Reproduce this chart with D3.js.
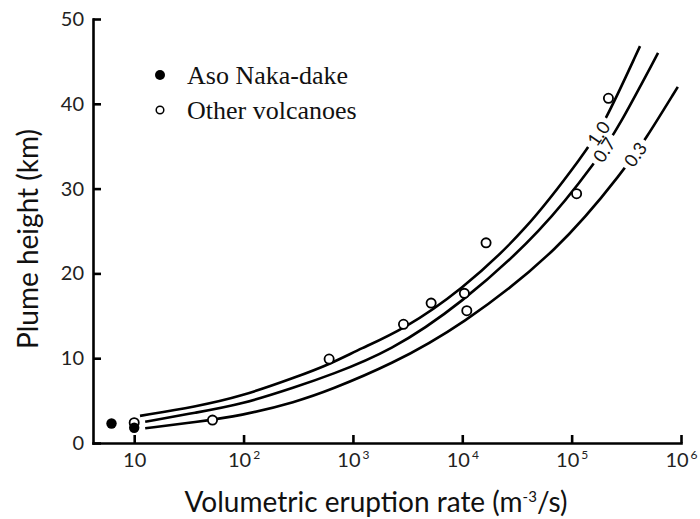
<!DOCTYPE html>
<html>
<head>
<meta charset="utf-8">
<script src="https://cdn.jsdelivr.net/npm/d3@7"></script>
<style>
    body { margin: 0; background: #fff; }
    svg { display: block; background: #fff; }
    .axis path, .axis line { stroke: #000; stroke-width: 2.6; }
    .axis text { font-family: Lato, "Open Sans", sans-serif; font-size: 20px; fill: #222; }
    .title { font-family: Lato, "Open Sans", sans-serif; fill: #111; }
    .legend { font-family: "Liberation Serif", "Times New Roman", serif; font-size: 26px; fill: #111; }
    .curve { fill: none; stroke: #000; stroke-width: 2.6; }
    .curveLabel { font-family: Lato, sans-serif; font-size: 18px; fill: #111; }
</style>
</head>
<body>
<div id="main"></div>
<script>
const W = 700;
const H = 519;

// tick values
const xTicks = [10, 1e2, 1e3, 1e4, 1e5, 1e6];
const yTicks = [0, 10, 20, 30, 40, 50];

// observations: [eruption rate m3/s, plume height km]
const asoPoints = [[6.2, 2.3], [10, 1.8]];
const otherPoints = [
    [10, 2.4], [52, 2.7], [606, 9.9], [2900, 14.0], [5190, 16.5],
    [10450, 17.65], [11000, 15.6], [16500, 23.6], [111000, 29.4], [217000, 40.65]
];

// model curves
const curveNames = ["1.0", "0.7", "0.3"];
const curve10 = [[11.3, 3.2], [37, 4.3], [93, 5.45], [307, 7.8], [617, 9.3], [1164, 11.1],
    [2900, 13.4], [9550, 17.9], [38900, 25.1], [131000, 34.2], [193000, 37.3], [422000, 46.8]];
const curve07 = [[12.6, 2.5], [37, 3.6], [93, 4.5], [307, 6.64], [617, 8.0], [2190, 10.8],
    [9550, 16.3], [55000, 25.1], [175000, 33.6], [260000, 36.9], [617000, 46.0]];
const curve03 = [[12.6, 1.73], [37, 2.5], [93, 3.18], [307, 4.87], [617, 6.25], [2190, 9.2],
    [9550, 13.7], [78300, 22.8], [309000, 32.4], [468000, 35.7], [935000, 42.0]];
const curves = [curve10, curve07, curve03];
const labelSeg = [9, 8, 8];      // label sits in the segment after this point
const labelT = [0.75, 0.3, 0.5]; // how far along that segment

var svg = d3.select("#main").append("svg")
    .attr("width", W)
    .attr("height", H);

var x = d3.scaleLog().domain([4.2, 1e6]).range([93, 681]);
var y = d3.scaleLinear().domain([0, 50]).range([443, 19]);

// axes, ticks point inward
var xAxis = svg.append("g")
    .attr("class", "axis")
    .attr("transform", "translate(0," + y(0) + ")")
    .call(d3.axisBottom(x).tickValues(xTicks).tickSizeInner(-8).tickSizeOuter(0).tickPadding(10));
xAxis.selectAll(".tick text").each(function (d) {
    var t = d3.select(this).text("10");
    var e = Math.round(Math.log10(d));
    if (e > 1) {
        t.append("tspan")
            .attr("dx", 2)
            .attr("dy", -8)
            .attr("font-size", "12px")
            .text(e);
    }
});

svg.append("g")
    .attr("class", "axis")
    .attr("transform", "translate(" + x(4.2) + ",0)")
    .call(d3.axisLeft(y).tickValues(yTicks).tickSizeInner(-8).tickSizeOuter(0).tickPadding(9));

svg.selectAll(".axis .domain").attr("stroke-linecap", "square");

// axis titles
svg.append("text")
    .attr("class", "title")
    .attr("x", 376)
    .attr("y", 512)
    .attr("text-anchor", "middle")
    .style("font-size", "28px")
    .text("Volumetric eruption rate (m")
    .call(t => t.append("tspan").attr("dy", -10).style("font-size", "15px").text("-3"))
    .call(t => t.append("tspan").attr("dy", 10).text("/s)"));

svg.append("text")
    .attr("class", "title")
    .attr("transform", "translate(38,239) rotate(-90)")
    .attr("text-anchor", "middle")
    .style("font-size", "28px")
    .text("Plume height (km)");

// label placement along each curve
var labelPlace = function (d, i) {
    var p0 = d[labelSeg[i]], p1 = d[labelSeg[i] + 1], t = labelT[i];
    var x0 = x(p0[0]), y0 = y(p0[1]), x1 = x(p1[0]), y1 = y(p1[1]);
    var ang = Math.atan2(y1 - y0, x1 - x0) * 180 / Math.PI;
    return "translate(" + (x0 + t * (x1 - x0)) + "," + (y0 + t * (y1 - y0)) + ") rotate(" + ang + ")";
};

// masks cut a gap in each curve where its label sits
var defs = svg.append("defs");
curves.forEach(function (d, i) {
    var m = defs.append("mask")
        .attr("id", "gap" + i)
        .attr("maskUnits", "userSpaceOnUse")
        .attr("x", 0).attr("y", 0).attr("width", W).attr("height", H);
    m.append("rect").attr("width", W).attr("height", H).attr("fill", "#fff");
    m.append("rect")
        .attr("x", -17).attr("y", -6).attr("width", 34).attr("height", 12)
        .attr("fill", "#000")
        .attr("transform", labelPlace(d, i));
});

// curves
var line = d3.line()
    .x(d => x(d[0]))
    .y(d => y(d[1]))
    .curve(d3.curveBasis);

svg.selectAll("path.curve")
    .data(curves)
    .enter()
    .append("path")
    .attr("class", "curve")
    .attr("mask", (d, i) => "url(#gap" + i + ")")
    .attr("d", line);

svg.selectAll("text.curveLabel")
    .data(curves)
    .enter()
    .append("text")
    .attr("class", "curveLabel")
    .attr("text-anchor", "middle")
    .attr("dominant-baseline", "central")
    .attr("transform", labelPlace)
    .text((d, i) => curveNames[i]);

// points
svg.selectAll("circle.other")
    .data(otherPoints)
    .enter()
    .append("circle")
    .attr("class", "other")
    .attr("cx", d => x(d[0]))
    .attr("cy", d => y(d[1]))
    .attr("r", 4.6)
    .attr("fill", "#fff")
    .attr("stroke", "#000")
    .attr("stroke-width", 1.8);

svg.selectAll("circle.aso")
    .data(asoPoints)
    .enter()
    .append("circle")
    .attr("class", "aso")
    .attr("cx", d => x(d[0]))
    .attr("cy", d => y(d[1]))
    .attr("r", 5.2)
    .attr("fill", "#000");

// legend
var legend = svg.append("g").attr("transform", "translate(160,75)");
legend.append("circle").attr("r", 5).attr("fill", "#000");
legend.append("text").attr("class", "legend").attr("x", 27).attr("y", 9).text("Aso Naka-dake");
legend.append("circle").attr("cy", 35).attr("r", 3.8)
    .attr("fill", "#fff").attr("stroke", "#000").attr("stroke-width", 1.5);
legend.append("text").attr("class", "legend").attr("x", 27).attr("y", 44).text("Other volcanoes");
</script>
</body>
</html>
